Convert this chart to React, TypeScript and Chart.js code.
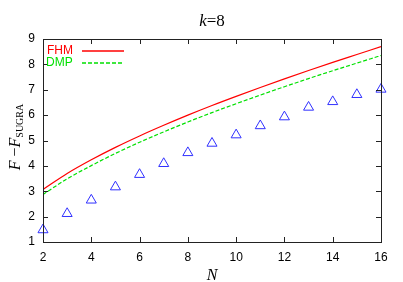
import React, { useEffect, useRef } from "react";
import { Chart, registerables } from "chart.js";

Chart.register(...registerables);

const N_VALUES = [2, 3, 4, 5, 6, 7, 8, 9, 10, 11, 12, 13, 14, 15, 16];
const FHM = [3.07, 3.7, 4.24, 4.73, 5.18, 5.6, 6.0, 6.38, 6.74, 7.09, 7.43, 7.76, 8.08, 8.39, 8.7];
const DMP = [2.87, 3.49, 4.01, 4.49, 4.93, 5.34, 5.73, 6.1, 6.45, 6.79, 7.12, 7.44, 7.75, 8.05, 8.35];
const NUMERIC = [1.48, 2.12, 2.65, 3.17, 3.66, 4.09, 4.52, 4.89, 5.22, 5.58, 5.93, 6.31, 6.53, 6.81, 7.02];
const X_TICKS = [2, 4, 6, 8, 10, 12, 14, 16];
const Y_TICKS = [1, 2, 3, 4, 5, 6, 7, 8, 9];
const TITLE_K = "k";
const TITLE_REST = "=8";

const RED = "#ff0000";
const GREEN = "#00e000";
const BLUE = "#3030ff";
const SERIF = '"Liberation Serif", "DejaVu Serif", serif';
const SANS = '"Liberation Sans", Arial, sans-serif';

const decor = {
  id: "decor",
  afterDraw(chart: any) {
    const ctx = chart.ctx as CanvasRenderingContext2D;
    const { left, right, top, bottom } = chart.chartArea;
    const xs = chart.scales.x;
    const ys = chart.scales.y;
    ctx.save();
    // frame
    ctx.strokeStyle = "#222";
    ctx.lineWidth = 1;
    ctx.setLineDash([]);
    ctx.strokeRect(Math.round(left) + 0.5, Math.round(top) + 0.5, Math.round(right - left), Math.round(bottom - top));
    const tl = 5;
    ctx.beginPath();
    for (const v of X_TICKS) {
      const px = Math.round(xs.getPixelForValue(v)) + 0.5;
      ctx.moveTo(px, bottom);
      ctx.lineTo(px, bottom - tl);
      ctx.moveTo(px, top);
      ctx.lineTo(px, top + tl);
    }
    for (const v of Y_TICKS) {
      const py = Math.round(ys.getPixelForValue(v)) + 0.5;
      ctx.moveTo(left, py);
      ctx.lineTo(left + tl, py);
      ctx.moveTo(right, py);
      ctx.lineTo(right - tl, py);
    }
    ctx.stroke();

    // title
    ctx.fillStyle = "#000";
    ctx.textBaseline = "alphabetic";
    ctx.textAlign = "left";
    const fI = `italic 17px ${SERIF}`;
    const fR = `17px ${SERIF}`;
    ctx.font = fI;
    const wk = ctx.measureText(TITLE_K).width;
    ctx.font = fR;
    const wr = ctx.measureText(TITLE_REST).width;
    const cx = (left + right) / 2;
    const tx = cx - (wk + wr) / 2;
    ctx.font = fI;
    ctx.fillText(TITLE_K, tx, 26);
    ctx.font = fR;
    ctx.fillText(TITLE_REST, tx + wk, 26);

    // x label
    ctx.font = `italic 16px ${SERIF}`;
    ctx.textAlign = "center";
    ctx.fillText("N", cx, 280);

    // y label
    ctx.save();
    ctx.translate(20, 137);
    ctx.rotate(-Math.PI / 2);
    ctx.textAlign = "left";
    const parts: [string, string, number][] = [
      ["F", `italic 16px ${SERIF}`, 0],
      [" \u2212", `16px ${SERIF}`, 0],
      ["F", `italic 16px ${SERIF}`, 0],
      ["SUGRA", `10px ${SERIF}`, 3],
    ];
    let total = 0;
    for (const [t, f] of parts) {
      ctx.font = f;
      total += ctx.measureText(t).width;
    }
    let px = -total / 2;
    for (const [t, f, dy] of parts) {
      ctx.font = f;
      ctx.fillText(t, px, dy);
      px += ctx.measureText(t).width;
    }
    ctx.restore();

    // legend
    ctx.font = `12px ${SANS}`;
    ctx.textAlign = "left";
    ctx.textBaseline = "middle";
    ctx.fillStyle = RED;
    ctx.fillText("FHM", 47, 51);
    ctx.strokeStyle = RED;
    ctx.lineWidth = 1.4;
    ctx.beginPath();
    ctx.moveTo(82, 51);
    ctx.lineTo(124, 51);
    ctx.stroke();
    ctx.fillStyle = GREEN;
    ctx.fillText("DMP", 46, 63);
    ctx.strokeStyle = GREEN;
    ctx.setLineDash([4, 2]);
    ctx.beginPath();
    ctx.moveTo(82, 63);
    ctx.lineTo(124, 63);
    ctx.stroke();
    ctx.setLineDash([]);
    ctx.restore();
  },
};

export default function App() {
  const ref = useRef<HTMLCanvasElement>(null);
  useEffect(() => {
    const canvas = ref.current!;
    const chart = new Chart(canvas, {
      type: "line",
      data: {
        datasets: [
          {
            label: "FHM",
            data: N_VALUES.map((n, i) => ({ x: n, y: FHM[i] })),
            borderColor: RED,
            borderWidth: 1.2,
            pointRadius: 0,
            cubicInterpolationMode: "monotone",
            fill: false,
          },
          {
            label: "DMP",
            data: N_VALUES.map((n, i) => ({ x: n, y: DMP[i] })),
            borderColor: GREEN,
            borderWidth: 1.2,
            borderDash: [4, 2],
            pointRadius: 0,
            cubicInterpolationMode: "monotone",
            fill: false,
          },
          {
            label: "numeric",
            data: N_VALUES.map((n, i) => ({ x: n, y: NUMERIC[i] })),
            showLine: false,
            borderColor: BLUE,
            backgroundColor: "rgba(0,0,0,0)",
            pointStyle: "triangle",
            pointRadius: 5.8,
            pointBorderWidth: 1,
            pointBorderColor: BLUE,
            pointBackgroundColor: "rgba(0,0,0,0)",
            clip: false,
          } as any,
        ],
      },
      options: {
        animation: false,
        responsive: false,
        devicePixelRatio: 1,
        layout: { padding: { left: 0, right: 22, top: 39, bottom: 0 } },
        plugins: { legend: { display: false }, tooltip: { enabled: false }, title: { display: false } },
        scales: {
          x: {
            type: "linear",
            min: 2,
            max: 16,
            afterFit: (s: any) => {
              s.height = 40;
            },
            afterBuildTicks: (s: any) => {
              s.ticks = X_TICKS.map((v) => ({ value: v }));
            },
            grid: { display: false, drawTicks: false },
            border: { display: false },
            ticks: { font: { family: SANS, size: 12 }, color: "#000", padding: 8, maxRotation: 0 },
          },
          y: {
            type: "linear",
            min: 1,
            max: 9,
            afterFit: (s: any) => {
              s.width = 43;
            },
            afterBuildTicks: (s: any) => {
              s.ticks = Y_TICKS.map((v) => ({ value: v }));
            },
            grid: { display: false, drawTicks: false },
            border: { display: false },
            ticks: { font: { family: SANS, size: 12 }, color: "#000", padding: 8 },
          },
        },
      },
      plugins: [decor],
    });
    return () => chart.destroy();
  }, []);
  return (
    <div style={{ position: "fixed", left: 0, top: 0, width: 403, height: 282, background: "#fff" }}>
      <canvas ref={ref} width={403} height={282} style={{ width: 403, height: 282, display: "block" }} />
    </div>
  );
}
